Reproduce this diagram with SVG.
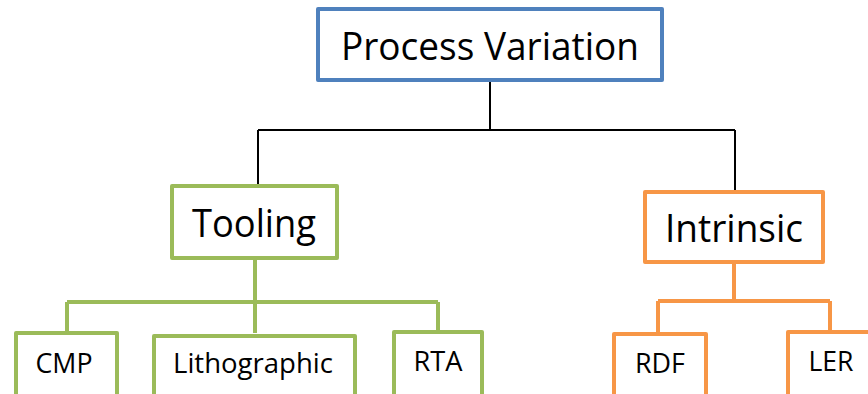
<svg xmlns="http://www.w3.org/2000/svg" width="868" height="394" viewBox="0 0 868 394">
  <style>
    .box { fill: #ffffff; stroke-width: 4; stroke-linejoin: round; }
    .blue { stroke: #4f81bd; }
    .green { stroke: #9bbb59; }
    .orange { stroke: #f79646; }
    .lbl { font-family: "Open Sans", "Noto Sans", sans-serif; fill: #000000; text-anchor: middle; }
    .big { font-size: 39px; }
    .small { font-size: 28px; }
    .wire { fill: none; stroke-width: 4; }
    .black { stroke: #000000; stroke-width: 2; }
  </style>
  <rect width="868" height="394" fill="#ffffff"/>

  <g id="connectors">
    <path class="wire black" d="M490 81 V130 M258 130 H735 M258 130 V185 M735 130 V191"/>
    <path class="wire green" d="M255 259 V333 M67 302 H438 M67 302 V332 M438 302 V331"/>
    <path class="wire orange" d="M734 263 V301 M658 301 H830 M658 301 V333 M830 301 V331"/>
  </g>

  <g id="process-variation">
    <rect class="box blue" x="318" y="9" width="344" height="71"/>
    <text class="lbl big" x="490" y="60" textLength="298" lengthAdjust="spacingAndGlyphs">Process Variation</text>
  </g>

  <g id="tooling">
    <rect class="box green" x="172" y="186" width="165" height="72"/>
    <text class="lbl big" x="254" y="237" textLength="124" lengthAdjust="spacingAndGlyphs">Tooling</text>
  </g>

  <g id="intrinsic">
    <rect class="box orange" x="645" y="192" width="178" height="70"/>
    <text class="lbl big" x="734" y="242" textLength="138" lengthAdjust="spacingAndGlyphs">Intrinsic</text>
  </g>

  <g id="cmp">
    <rect class="box green" x="16" y="333" width="101" height="70"/>
    <text class="lbl small" x="64" y="373" textLength="57" lengthAdjust="spacingAndGlyphs">CMP</text>
  </g>

  <g id="lithographic">
    <rect class="box green" x="154" y="336" width="201" height="70"/>
    <text class="lbl small" x="253" y="373" textLength="160" lengthAdjust="spacingAndGlyphs">Lithographic</text>
  </g>

  <g id="rta">
    <rect class="box green" x="394" y="332" width="88" height="70"/>
    <text class="lbl small" x="438" y="371" textLength="49" lengthAdjust="spacingAndGlyphs">RTA</text>
  </g>

  <g id="rdf">
    <rect class="box orange" x="614" y="334" width="92" height="70"/>
    <text class="lbl small" x="660" y="373" textLength="50" lengthAdjust="spacingAndGlyphs">RDF</text>
  </g>

  <g id="ler">
    <rect class="box orange" x="788" y="332" width="100" height="70"/>
    <text class="lbl small" x="831" y="371" textLength="45" lengthAdjust="spacingAndGlyphs">LER</text>
  </g>
</svg>
